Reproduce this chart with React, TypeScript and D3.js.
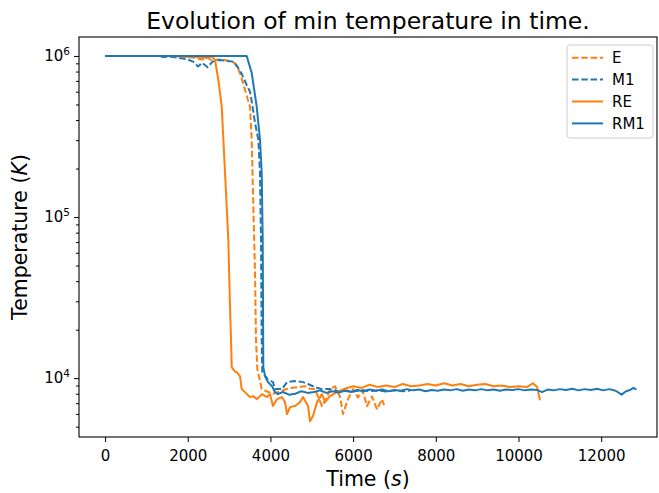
import React, { useEffect, useRef } from 'react'
import * as d3 from 'd3'

// [time (s), min temperature (K)]
const seriesE: [number, number][] = [
  [0, 1.0e6], [1500, 1.0e6], [1900, 0.99e6], [2200, 0.972e6], [2350, 0.95e6], [2459, 0.985e6],
  [2600, 0.93e6], [2720, 0.95e6], [2900, 0.944e6], [3050, 0.922e6], [3150, 0.9e6], [3264, 0.785e6],
  [3385, 0.616e6], [3506, 0.483e6], [3547, 0.302e6], [3587, 0.116e6], [3627, 4.53e4], [3651, 1.74e4],
  [3683, 1.14e4], [3740, 9.8e3], [3789, 8.55e3], [3900, 8.3e3], [4062, 8.0e3], [4200, 8.2e3],
  [4350, 8.5e3], [4500, 8.7e3], [4650, 8.8e3], [4850, 8.9e3], [4950, 8.6e3], [5078, 8.55e3],
  [5150, 7.7e3], [5247, 6.7e3], [5370, 7.6e3], [5441, 8.55e3], [5560, 8.9e3], [5682, 7.7e3],
  [5755, 6.0e3], [5876, 7.4e3], [5997, 8.55e3], [6117, 7.6e3], [6230, 8.4e3], [6335, 6.7e3],
  [6456, 7.7e3], [6577, 6.4e3], [6698, 7.4e3], [6750, 6.8e3],
]

const seriesM1: [number, number][] = [
  [0, 1.0e6], [1300, 1.0e6], [1400, 0.986e6], [1600, 0.99e6], [1800, 0.972e6], [2000, 0.95e6],
  [2130, 0.922e6], [2250, 0.86e6], [2350, 0.905e6], [2480, 0.85e6], [2600, 0.922e6], [2780, 0.944e6],
  [2950, 0.93e6], [3100, 0.922e6], [3200, 0.86e6], [3300, 0.78e6], [3426, 0.66e6], [3506, 0.6e6],
  [3560, 0.5e6], [3627, 0.385e6], [3707, 0.302e6], [3748, 0.189e6], [3772, 7.26e4], [3789, 1.74e4],
  [3803, 1.09e4], [3940, 9.8e3], [4062, 9.45e3], [4111, 8.55e3], [4280, 8.55e3], [4401, 9.45e3],
  [4594, 9.6e3], [4788, 9.45e3], [4909, 9.2e3], [5078, 8.8e3], [5247, 8.55e3], [5441, 8.55e3],
  [5634, 8.3e3], [5800, 8.4e3], [6000, 8.25e3], [6200, 8.45e3], [6400, 8.3e3], [6600, 8.4e3],
  [6800, 8.25e3], [7000, 8.4e3], [7200, 8.3e3], [7400, 8.4e3],
]

const seriesRE: [number, number][] = [
  [0, 1.0e6], [1500, 1.0e6], [2000, 0.99e6], [2300, 0.985e6], [2450, 0.97e6], [2550, 0.99e6],
  [2600, 0.986e6], [2660, 0.94e6], [2740, 0.71e6], [2822, 0.485e6], [2902, 0.189e6], [2981, 7.26e4],
  [3022, 2.8e4], [3047, 1.74e4], [3064, 1.17e4], [3140, 1.1e4], [3184, 1.09e4], [3264, 1.03e4],
  [3305, 8.55e3], [3385, 8.19e3], [3506, 7.63e3], [3579, 7.74e3], [3675, 7.41e3], [3796, 7.96e3],
  [3917, 7.63e3], [3990, 7.96e3], [4062, 6.71e3], [4159, 7.41e3], [4280, 7.63e3], [4352, 7.1e3],
  [4401, 5.99e3], [4473, 6.61e3], [4594, 6.71e3], [4715, 7.1e3], [4788, 7.63e3], [4909, 6.71e3],
  [4957, 5.4e3], [5030, 5.82e3], [5126, 7.1e3], [5247, 7.96e3], [5320, 7.1e3], [5441, 7.74e3],
  [5610, 8.19e3], [5800, 8.6e3], [6000, 8.9e3], [6200, 8.7e3], [6400, 9.1e3], [6600, 8.8e3],
  [6800, 9.0e3], [7000, 8.8e3], [7200, 9.2e3], [7400, 8.9e3], [7600, 9.0e3], [7800, 9.2e3],
  [8000, 9.0e3], [8200, 9.3e3], [8400, 9.0e3], [8600, 9.2e3], [8800, 8.9e3], [9000, 9.1e3],
  [9200, 9.2e3], [9400, 8.9e3], [9600, 9.0e3], [9800, 8.8e3], [10000, 8.9e3], [10200, 8.8e3],
  [10350, 9.3e3], [10450, 8.8e3], [10520, 7.3e3],
]

const seriesRM1: [number, number][] = [
  [0, 1.0e6], [1000, 1.0e6], [2000, 1.0e6], [3000, 1.0e6], [3426, 1.0e6], [3547, 7.85e5],
  [3668, 4.85e5], [3748, 3.02e5], [3789, 1.89e5], [3813, 7.3e4], [3828, 1.17e4], [3870, 1.03e4],
  [3940, 9.45e3], [4040, 8.9e3], [4110, 8.2e3], [4180, 7.96e3], [4300, 8.2e3], [4450, 7.9e3],
  [4600, 8.0e3], [4750, 8.3e3], [4900, 8.1e3], [5050, 8.2e3], [5200, 8.4e3], [5350, 8.1e3],
  [5500, 8.3e3], [5650, 8.15e3], [5800, 8.35e3], [5950, 8.2e3], [6100, 8.45e3], [6250, 8.3e3],
  [6400, 8.5e3], [6550, 8.35e3], [6700, 8.5e3], [6850, 8.3e3], [7000, 8.45e3], [7150, 8.35e3],
  [7300, 8.55e3], [7450, 8.4e3], [7600, 8.5e3], [7750, 8.3e3], [7900, 8.45e3], [8050, 8.35e3],
  [8200, 8.5e3], [8350, 8.4e3], [8500, 8.55e3], [8650, 8.35e3], [8800, 8.5e3], [8950, 8.4e3],
  [9100, 8.55e3], [9250, 8.4e3], [9400, 8.5e3], [9550, 8.35e3], [9700, 8.5e3], [9850, 8.45e3],
  [10000, 8.55e3], [10150, 8.4e3], [10300, 8.5e3], [10450, 8.45e3], [10570, 8.2e3], [10700, 8.5e3],
  [10850, 8.4e3], [11000, 8.55e3], [11150, 8.45e3], [11300, 8.6e3], [11450, 8.4e3], [11600, 8.55e3],
  [11750, 8.45e3], [11900, 8.6e3], [12050, 8.4e3], [12200, 8.55e3], [12350, 8.35e3], [12494, 7.9e3],
  [12600, 8.3e3], [12700, 8.45e3], [12780, 8.7e3], [12850, 8.5e3],
]

const legendLabels = ['E', 'M1', 'RE', 'RM1']
const xTicks = [0, 2000, 4000, 6000, 8000, 10000, 12000]
const yMajor = [1e4, 1e5, 1e6]
const yExp = ['4', '5', '6']

export default function App() {
  const svgRef = useRef<SVGSVGElement>(null)

  useEffect(() => {
    document.body.style.margin = '0'
    const w = 659
    const h = 493
    const left = 79, right = 657, top = 37, bottom = 437
    const font = 'DejaVu Sans'
    const blue = '#1f77b4'
    const orange = '#ff7f0e'

    const svg = d3.select(svgRef.current)
      .attr('width', w)
      .attr('height', h)
      .style('background', 'white')
    svg.selectAll('*').remove()

    // scales
    const x = d3.scaleLinear().domain([-630, 13350]).range([left, right])
    const y = d3.scaleLog().domain([4313, 1.311e6]).range([bottom, top])

    svg.append('defs').append('clipPath').attr('id', 'plot-clip')
      .append('rect')
      .attr('x', left).attr('y', top)
      .attr('width', right - left).attr('height', bottom - top)

    const line = d3.line<[number, number]>()
      .x(d => x(d[0]))
      .y(d => y(d[1]))

    const series = [
      { data: seriesE, color: orange, dash: '6.5,2.8' },
      { data: seriesM1, color: blue, dash: '6.5,2.8' },
      { data: seriesRE, color: orange, dash: null },
      { data: seriesRM1, color: blue, dash: null },
    ]

    const plot = svg.append('g').attr('clip-path', 'url(#plot-clip)')
    series.forEach(s => {
      plot.append('path')
        .datum(s.data)
        .attr('d', line)
        .attr('fill', 'none')
        .attr('stroke', s.color)
        .attr('stroke-width', 2)
        .attr('stroke-linejoin', 'round')
        .attr('stroke-dasharray', s.dash)
    })

    // axes
    const xAxis = d3.axisBottom(x).tickValues(xTicks).tickSize(5).tickSizeOuter(0)
      .tickFormat(d => String(d))
    const gx = svg.append('g')
      .attr('transform', `translate(0, ${bottom})`)
      .call(xAxis)
    gx.select('.domain').remove()
    gx.selectAll('text')
      .attr('font-family', font)
      .attr('font-size', 15)
      .attr('fill', 'black')
      .attr('dy', '1.05em')
      .attr('y', 8)

    const yMinor: number[] = []
    ;[1e3, 1e4, 1e5].forEach(dec => {
      for (let k = 2; k <= 9; k++) {
        const v = k * dec
        if (v >= 4313 && v <= 1.311e6) yMinor.push(v)
      }
    })
    const gyMinor = svg.append('g')
      .attr('transform', `translate(${left}, 0)`)
      .call(d3.axisLeft(y).tickValues(yMinor).tickSize(3).tickFormat(() => ''))
    gyMinor.select('.domain').remove()

    const gy = svg.append('g')
      .attr('transform', `translate(${left}, 0)`)
      .call(d3.axisLeft(y).tickValues(yMajor).tickSize(5).tickFormat(() => ''))
    gy.select('.domain').remove()

    yMajor.forEach((v, i) => {
      const t = svg.append('text')
        .attr('x', left - 9)
        .attr('y', y(v) + 5)
        .attr('text-anchor', 'end')
        .attr('font-family', font)
        .attr('font-size', 15)
        .attr('fill', 'black')
      t.append('tspan').text('10')
      t.append('tspan').attr('dy', -6).attr('font-size', 10.5).text(yExp[i])
    })

    // frame
    svg.append('rect')
      .attr('x', left).attr('y', top)
      .attr('width', right - left).attr('height', bottom - top)
      .attr('fill', 'none')
      .attr('stroke', 'black')
      .attr('stroke-width', 1.1)

    // title and labels
    svg.append('text')
      .attr('x', (left + right) / 2)
      .attr('y', 29)
      .attr('text-anchor', 'middle')
      .attr('font-family', font)
      .attr('font-size', 23.5)
      .text('Evolution of min temperature in time.')

    const xl = svg.append('text')
      .attr('x', (left + right) / 2)
      .attr('y', 486)
      .attr('text-anchor', 'middle')
      .attr('font-family', font)
      .attr('font-size', 20.5)
    xl.append('tspan').text('Time (')
    xl.append('tspan').attr('font-style', 'italic').text('s')
    xl.append('tspan').text(')')

    const yl = svg.append('text')
      .attr('transform', `translate(27, ${(top + bottom) / 2}) rotate(-90)`)
      .attr('text-anchor', 'middle')
      .attr('font-family', font)
      .attr('font-size', 20.5)
    yl.append('tspan').text('Temperature (')
    yl.append('tspan').attr('font-style', 'italic').text('K')
    yl.append('tspan').text(')')

    // legend
    const lg = svg.append('g')
    lg.append('rect')
      .attr('x', 567).attr('y', 45)
      .attr('width', 86).attr('height', 93)
      .attr('rx', 3)
      .attr('fill', 'white').attr('fill-opacity', 0.8)
      .attr('stroke', '#cccccc')
    legendLabels.forEach((label, i) => {
      const s = series[i]
      const cy = 57.7 + i * 21.9
      lg.append('line')
        .attr('x1', 572).attr('x2', 603)
        .attr('y1', cy).attr('y2', cy)
        .attr('stroke', s.color)
        .attr('stroke-width', 2)
        .attr('stroke-dasharray', s.dash)
      lg.append('text')
        .attr('x', 612).attr('y', cy + 5.5)
        .attr('font-family', font)
        .attr('font-size', 15)
        .text(label)
    })
  }, [])

  return <svg ref={svgRef} style={{ display: 'block' }}></svg>
}
